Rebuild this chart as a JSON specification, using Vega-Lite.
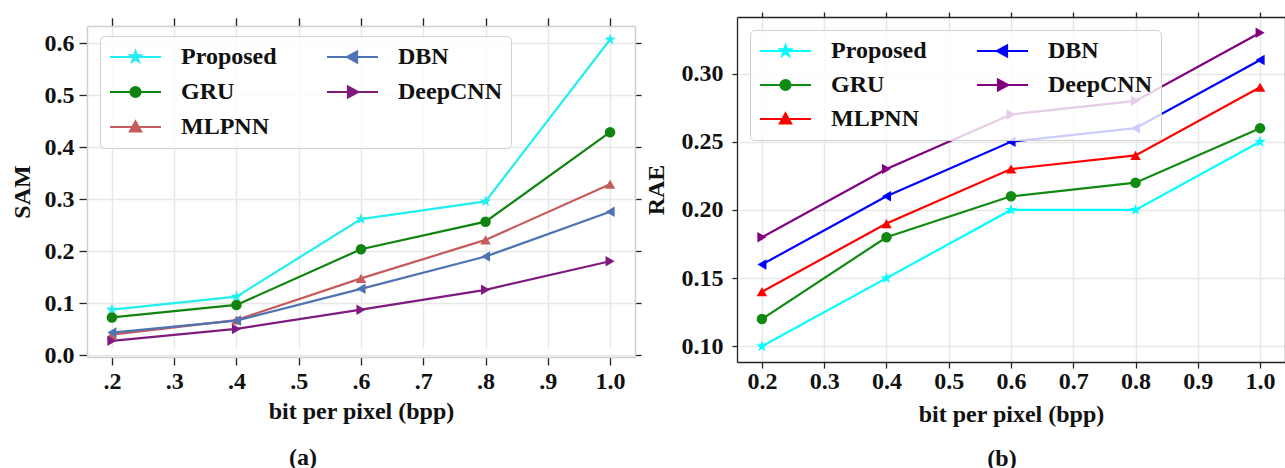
{
  "$schema": "https://vega.github.io/schema/vega-lite/v6.json",
  "background": "white",
  "padding": {"left": 10, "top": 11, "right": 0, "bottom": 0},
  "spacing": 2,
  "config": {
    "font": "Liberation Serif",
    "view": {"stroke": null},
    "axis": {
      "labelFont": "Liberation Serif", "labelFontSize": 24, "labelFontWeight": "bold", "labelColor": "#111111",
      "titleFont": "Liberation Serif", "titleFontSize": 24, "titleFontWeight": "bold", "titleColor": "#111111",
      "gridColor": "#e8e8e8", "gridWidth": 1.5, "tickColor": "#222222", "tickWidth": 1.3
    },
    "legend": {
      "labelFont": "Liberation Serif", "labelFontSize": 24, "labelFontWeight": "bold", "labelColor": "#111111"
    }
  },
  "datasets": {
    "sam": [
      {"bpp": 0.2, "method": "Proposed", "value": 0.088},
      {"bpp": 0.4, "method": "Proposed", "value": 0.113},
      {"bpp": 0.6, "method": "Proposed", "value": 0.262},
      {"bpp": 0.8, "method": "Proposed", "value": 0.296},
      {"bpp": 1.0, "method": "Proposed", "value": 0.607},
      {"bpp": 0.2, "method": "GRU", "value": 0.073},
      {"bpp": 0.4, "method": "GRU", "value": 0.097},
      {"bpp": 0.6, "method": "GRU", "value": 0.204},
      {"bpp": 0.8, "method": "GRU", "value": 0.257},
      {"bpp": 1.0, "method": "GRU", "value": 0.429},
      {"bpp": 0.2, "method": "MLPNN", "value": 0.040},
      {"bpp": 0.4, "method": "MLPNN", "value": 0.068},
      {"bpp": 0.6, "method": "MLPNN", "value": 0.148},
      {"bpp": 0.8, "method": "MLPNN", "value": 0.222},
      {"bpp": 1.0, "method": "MLPNN", "value": 0.329},
      {"bpp": 0.2, "method": "DBN", "value": 0.044},
      {"bpp": 0.4, "method": "DBN", "value": 0.067},
      {"bpp": 0.6, "method": "DBN", "value": 0.128},
      {"bpp": 0.8, "method": "DBN", "value": 0.190},
      {"bpp": 1.0, "method": "DBN", "value": 0.276},
      {"bpp": 0.2, "method": "DeepCNN", "value": 0.028},
      {"bpp": 0.4, "method": "DeepCNN", "value": 0.051},
      {"bpp": 0.6, "method": "DeepCNN", "value": 0.088},
      {"bpp": 0.8, "method": "DeepCNN", "value": 0.126},
      {"bpp": 1.0, "method": "DeepCNN", "value": 0.181}
    ],
    "rae": [
      {"bpp": 0.2, "method": "Proposed", "value": 0.10},
      {"bpp": 0.4, "method": "Proposed", "value": 0.15},
      {"bpp": 0.6, "method": "Proposed", "value": 0.20},
      {"bpp": 0.8, "method": "Proposed", "value": 0.20},
      {"bpp": 1.0, "method": "Proposed", "value": 0.25},
      {"bpp": 0.2, "method": "GRU", "value": 0.12},
      {"bpp": 0.4, "method": "GRU", "value": 0.18},
      {"bpp": 0.6, "method": "GRU", "value": 0.21},
      {"bpp": 0.8, "method": "GRU", "value": 0.22},
      {"bpp": 1.0, "method": "GRU", "value": 0.26},
      {"bpp": 0.2, "method": "MLPNN", "value": 0.14},
      {"bpp": 0.4, "method": "MLPNN", "value": 0.19},
      {"bpp": 0.6, "method": "MLPNN", "value": 0.23},
      {"bpp": 0.8, "method": "MLPNN", "value": 0.24},
      {"bpp": 1.0, "method": "MLPNN", "value": 0.29},
      {"bpp": 0.2, "method": "DBN", "value": 0.16},
      {"bpp": 0.4, "method": "DBN", "value": 0.21},
      {"bpp": 0.6, "method": "DBN", "value": 0.25},
      {"bpp": 0.8, "method": "DBN", "value": 0.26},
      {"bpp": 1.0, "method": "DBN", "value": 0.31},
      {"bpp": 0.2, "method": "DeepCNN", "value": 0.18},
      {"bpp": 0.4, "method": "DeepCNN", "value": 0.23},
      {"bpp": 0.6, "method": "DeepCNN", "value": 0.27},
      {"bpp": 0.8, "method": "DeepCNN", "value": 0.28},
      {"bpp": 1.0, "method": "DeepCNN", "value": 0.33}
    ]
  },
  "resolve": {"scale": {"color": "independent", "shape": "independent", "fill": "independent", "stroke": "independent"}},
  "hconcat": [
    {
      "width": 548,
      "height": 340,
      "data": {"name": "sam"},
      "title": {"text": "(a)", "orient": "bottom", "anchor": "middle", "frame": "group", "dx": -58, "offset": 23, "font": "Liberation Serif", "fontSize": 24, "fontWeight": "bold", "color": "#111111"},
      "resolve": {"scale": {"shape": "independent"}, "legend": {"shape": "independent", "fill": "independent", "stroke": "independent", "color": "independent"}},
      "layer": [
        {
          "mark": {"type": "line", "strokeWidth": 2.2},
          "encoding": {
            "x": {"field": "bpp", "type": "quantitative", "scale": {"domain": [0.16, 1.04], "nice": false, "zero": false},
              "axis": {"orient": "bottom", "values": [0.2, 0.3, 0.4, 0.5, 0.6, 0.7, 0.8, 0.9, 1.0], "labelExpr": "datum.value > 0.95 ? '1.0' : '.' + format(datum.value * 10, '.0f')", "tickSize": 8, "labelPadding": 4, "title": "bit per pixel (bpp)", "titlePadding": 6, "grid": true, "domain": true, "domainColor": "#cfcfcf", "domainWidth": 1.5}},
            "y": {"field": "value", "type": "quantitative", "scale": {"domain": [-0.003, 0.633], "range": [340, 9], "nice": false, "zero": false},
              "axis": {"orient": "left", "values": [0, 0.1, 0.2, 0.3, 0.4, 0.5, 0.6], "format": ".1f", "tickSize": 8, "labelPadding": 5, "title": "SAM", "titlePadding": 10, "grid": true, "domain": true, "domainColor": "#cfcfcf", "domainWidth": 1.5}},
            "color": {"field": "method", "type": "nominal", "legend": null,
              "scale": {"domain": ["Proposed", "GRU", "MLPNN", "DBN", "DeepCNN"], "range": ["#22eeee", "#0f840f", "#c65b5b", "#4f74b3", "#7f1a80"]}}
          }
        },
        {
          "mark": {"type": "point", "filled": true, "size": 110, "opacity": 1},
          "encoding": {
            "x": {"field": "bpp", "type": "quantitative",
              "axis": {"orient": "top", "offset": -9, "values": [0.2, 0.3, 0.4, 0.5, 0.6, 0.7, 0.8, 0.9, 1.0], "labels": false, "tickSize": 8, "title": null, "grid": false, "domain": true, "domainColor": "#cfcfcf", "domainWidth": 1.5}},
            "y": {"field": "value", "type": "quantitative",
              "axis": {"orient": "right", "values": [0, 0.1, 0.2, 0.3, 0.4, 0.5, 0.6], "labels": false, "tickSize": 6, "title": null, "grid": false, "minExtent": 6, "domain": true, "domainColor": "#cfcfcf", "domainWidth": 1.5}},
            "color": {"field": "method", "type": "nominal", "legend": null},
            "shape": {"field": "method", "type": "nominal", "legend": null,
              "scale": {"domain": ["Proposed", "GRU", "MLPNN", "DBN", "DeepCNN"], "range": ["M0,-1.15L0.27,-0.373L1.094,-0.355L0.437,0.143L0.676,0.93L0,0.46L-0.676,0.93L-0.437,0.143L-1.094,-0.355L-0.27,-0.373Z", "circle", "triangle-up", "triangle-left", "triangle-right"]}}
          }
        },
        {
          "transform": [{"filter": "false"}],
          "mark": {"type": "point", "filled": false, "strokeWidth": 2.2, "opacity": 1},
          "encoding": {
            "x": {"field": "bpp", "type": "quantitative", "axis": null},
            "y": {"field": "value", "type": "quantitative", "axis": null},
            "fill": {"field": "method", "type": "nominal",
              "scale": {"domain": ["Proposed", "GRU", "MLPNN", "DBN", "DeepCNN"], "range": ["#22eeee", "#0f840f", "#c65b5b", "#4f74b3", "#7f1a80"]},
              "legend": {"title": null, "orient": "none", "legendX": 13, "legendY": 19, "columns": 2, "fillColor": "rgba(255,255,255,0.8)", "strokeColor": "#d0d0d0", "cornerRadius": 4, "padding": 9, "symbolSize": 400, "symbolStrokeWidth": 2.2, "labelOffset": 48, "rowPadding": 11, "columnPadding": 45}},
            "stroke": {"field": "method", "type": "nominal",
              "scale": {"domain": ["Proposed", "GRU", "MLPNN", "DBN", "DeepCNN"], "range": ["#22eeee", "#0f840f", "#c65b5b", "#4f74b3", "#7f1a80"]},
              "legend": {"title": null, "orient": "none", "legendX": 13, "legendY": 19, "columns": 2, "fillColor": "rgba(255,255,255,0.8)", "strokeColor": "#d0d0d0", "cornerRadius": 4, "padding": 9, "symbolSize": 400, "symbolStrokeWidth": 2.2, "labelOffset": 48, "rowPadding": 11, "columnPadding": 45}},
            "shape": {"field": "method", "type": "nominal",
              "scale": {"domain": ["Proposed", "GRU", "MLPNN", "DBN", "DeepCNN"], "range": [
                "M-1.1,0H4M1.45,-0.55L1.579,-0.178L1.973,-0.17L1.659,0.068L1.773,0.445L1.45,0.22L1.127,0.445L1.241,0.068L0.927,-0.17L1.321,-0.178Z",
                "M-1.1,0H4M0.95,0A0.5,0.5,0,1,0,1.95,0A0.5,0.5,0,1,0,0.95,0Z",
                "M-1.1,0H4M1.45,-0.55L2,0.45L0.9,0.45Z",
                "M-1.1,0H4M0.9,0L1.9,-0.55L1.9,0.55Z",
                "M-1.1,0H4M2,0L1,-0.55L1,0.55Z"]},
              "legend": {"title": null, "orient": "none", "legendX": 13, "legendY": 19, "columns": 2, "fillColor": "rgba(255,255,255,0.8)", "strokeColor": "#d0d0d0", "cornerRadius": 4, "padding": 9, "symbolSize": 400, "symbolStrokeWidth": 2.2, "labelOffset": 48, "rowPadding": 11, "columnPadding": 45}}
          }
        }
      ]
    },
    {
      "width": 548,
      "height": 345,
      "data": {"name": "rae"},
      "title": {"text": "(b)", "orient": "bottom", "anchor": "middle", "frame": "group", "dx": -9, "offset": 21, "font": "Liberation Serif", "fontSize": 24, "fontWeight": "bold", "color": "#111111"},
      "resolve": {"scale": {"shape": "independent"}, "legend": {"shape": "independent", "fill": "independent", "stroke": "independent", "color": "independent"}},
      "layer": [
        {
          "mark": {"type": "line", "strokeWidth": 2.2},
          "encoding": {
            "x": {"field": "bpp", "type": "quantitative", "scale": {"domain": [0.16, 1.04], "nice": false, "zero": false},
              "axis": {"orient": "bottom", "values": [0.2, 0.3, 0.4, 0.5, 0.6, 0.7, 0.8, 0.9, 1.0], "format": ".1f", "tickSize": 6, "labelPadding": 1, "title": "bit per pixel (bpp)", "titlePadding": 9, "grid": true, "domain": true, "domainColor": "#222222", "domainWidth": 1.3}},
            "y": {"field": "value", "type": "quantitative", "scale": {"domain": [0.0885, 0.3415], "nice": false, "zero": false},
              "axis": {"orient": "left", "values": [0.10, 0.15, 0.20, 0.25, 0.30], "format": ".2f", "tickSize": 5, "labelPadding": 9, "title": "RAE", "titlePadding": 13, "grid": true, "domain": true, "domainColor": "#222222", "domainWidth": 1.3}},
            "color": {"field": "method", "type": "nominal", "legend": null,
              "scale": {"domain": ["Proposed", "GRU", "MLPNN", "DBN", "DeepCNN"], "range": ["#00ffff", "#108a10", "#ff0000", "#0000ff", "#800080"]}}
          }
        },
        {
          "mark": {"type": "point", "filled": true, "size": 110, "opacity": 1},
          "encoding": {
            "x": {"field": "bpp", "type": "quantitative",
              "axis": {"orient": "top", "values": [0.2, 0.3, 0.4, 0.5, 0.6, 0.7, 0.8, 0.9, 1.0], "labels": false, "tickSize": 5, "title": null, "grid": false, "domain": true, "domainColor": "#222222", "domainWidth": 1.3}},
            "y": {"field": "value", "type": "quantitative",
              "axis": {"orient": "right", "labels": false, "ticks": false, "title": null, "grid": false, "domain": true, "domainColor": "#222222", "domainWidth": 1.3, "minExtent": 0}},
            "color": {"field": "method", "type": "nominal", "legend": null},
            "shape": {"field": "method", "type": "nominal", "legend": null,
              "scale": {"domain": ["Proposed", "GRU", "MLPNN", "DBN", "DeepCNN"], "range": ["M0,-1.15L0.27,-0.373L1.094,-0.355L0.437,0.143L0.676,0.93L0,0.46L-0.676,0.93L-0.437,0.143L-1.094,-0.355L-0.27,-0.373Z", "circle", "triangle-up", "triangle-left", "triangle-right"]}}
          }
        },
        {
          "transform": [{"filter": "false"}],
          "mark": {"type": "point", "filled": false, "strokeWidth": 2.2, "opacity": 1},
          "encoding": {
            "x": {"field": "bpp", "type": "quantitative", "axis": null},
            "y": {"field": "value", "type": "quantitative", "axis": null},
            "fill": {"field": "method", "type": "nominal",
              "scale": {"domain": ["Proposed", "GRU", "MLPNN", "DBN", "DeepCNN"], "range": ["#00ffff", "#108a10", "#ff0000", "#0000ff", "#800080"]},
              "legend": {"title": null, "orient": "none", "legendX": 13, "legendY": 13, "columns": 2, "fillColor": "rgba(255,255,255,0.8)", "strokeColor": "#d0d0d0", "cornerRadius": 4, "padding": 9, "symbolSize": 400, "symbolStrokeWidth": 2.2, "labelOffset": 48, "rowPadding": 10, "columnPadding": 45}},
            "stroke": {"field": "method", "type": "nominal",
              "scale": {"domain": ["Proposed", "GRU", "MLPNN", "DBN", "DeepCNN"], "range": ["#00ffff", "#108a10", "#ff0000", "#0000ff", "#800080"]},
              "legend": {"title": null, "orient": "none", "legendX": 13, "legendY": 13, "columns": 2, "fillColor": "rgba(255,255,255,0.8)", "strokeColor": "#d0d0d0", "cornerRadius": 4, "padding": 9, "symbolSize": 400, "symbolStrokeWidth": 2.2, "labelOffset": 48, "rowPadding": 10, "columnPadding": 45}},
            "shape": {"field": "method", "type": "nominal",
              "scale": {"domain": ["Proposed", "GRU", "MLPNN", "DBN", "DeepCNN"], "range": [
                "M-1.1,0H4M1.45,-0.55L1.579,-0.178L1.973,-0.17L1.659,0.068L1.773,0.445L1.45,0.22L1.127,0.445L1.241,0.068L0.927,-0.17L1.321,-0.178Z",
                "M-1.1,0H4M0.95,0A0.5,0.5,0,1,0,1.95,0A0.5,0.5,0,1,0,0.95,0Z",
                "M-1.1,0H4M1.45,-0.55L2,0.45L0.9,0.45Z",
                "M-1.1,0H4M0.9,0L1.9,-0.55L1.9,0.55Z",
                "M-1.1,0H4M2,0L1,-0.55L1,0.55Z"]},
              "legend": {"title": null, "orient": "none", "legendX": 13, "legendY": 13, "columns": 2, "fillColor": "rgba(255,255,255,0.8)", "strokeColor": "#d0d0d0", "cornerRadius": 4, "padding": 9, "symbolSize": 400, "symbolStrokeWidth": 2.2, "labelOffset": 48, "rowPadding": 10, "columnPadding": 45}}
          }
        }
      ]
    }
  ]
}
